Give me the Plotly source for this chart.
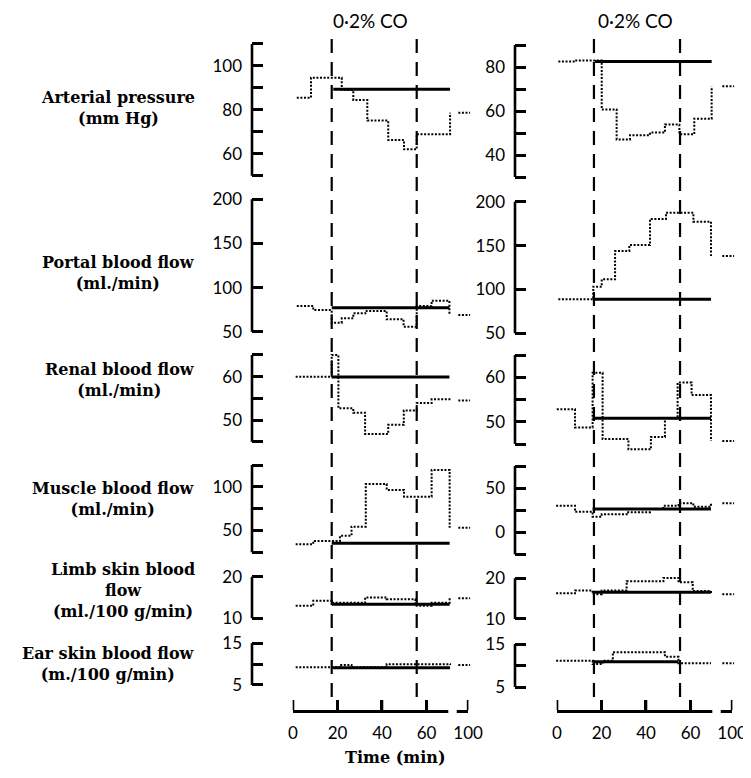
import plotly.graph_objects as go

# ---------------- data ----------------
ROW_NAMES = [
    "Arterial pressure<br>(mm Hg)",
    "Portal blood flow<br>(ml./min)",
    "Renal blood flow<br>(ml./min)",
    "Muscle blood flow<br>(ml./min)",
    "Limb skin blood<br>flow<br>(ml./100 g/min)",
    "Ear skin blood flow<br>(m./100 g/min)",
]
COLUMN_TITLE = "0·2% CO"
X_TITLE = "Time (min)"
X_TICK_TIMES = [0, 20, 40, 60]
X_TICK_LABELS = ["0", "20", "40", "60", "100"]
CO_ON_MIN = [17.4, 16.6]
CO_OFF_MIN = [55.6, 55.3]

# left experiment: step edges (min), step values, 100-min recovery value, control line
ART_L_T = [1.7, 8.1, 21.9, 27.1, 33.4, 42.8, 49.9, 55.6, 70.6]
ART_L_V = [85.5, 94.6, 89.0, 84.5, 75.1, 66.3, 62.0, 68.9]
ART_L_REC = 78.7
ART_L_CTRL = 89.4
ART_L_CTRL_T = [18.1, 70.6]

POR_L_T = [1.7, 9.1, 17.4, 21.9, 27.1, 33.1, 42.1, 49.7, 55.6, 62.3, 70.3]
POR_L_V = [79.1, 74.6, 60.2, 65.2, 70.8, 73.5, 64.1, 55.7, 79.1, 85.2]
POR_L_REC = 68.9
POR_L_CTRL = 77.2
POR_L_CTRL_T = [17.4, 70.3]

REN_L_T = [1.2, 17.4, 20.4, 27.1, 32.4, 42.8, 49.8, 55.6, 62.3, 70.3]
REN_L_V = [60.0, 65.0, 52.7, 51.7, 46.8, 48.9, 52.2, 53.9, 54.8]
REN_L_REC = 54.5
REN_L_CTRL = 59.9
REN_L_CTRL_T = [17.4, 70.3]

MUS_L_T = [1.2, 9.1, 21.1, 26.3, 32.7, 42.1, 49.9, 62.3, 70.4]
MUS_L_V = [34.2, 38.0, 44.0, 54.4, 103.2, 96.4, 88.7, 119.3]
MUS_L_REC = 53.2
MUS_L_CTRL = 35.3
MUS_L_CTRL_T = [17.4, 70.4]

LIMB_L_T = [1.2, 9.1, 17.4, 32.4, 42.1, 55.0, 62.3, 70.4]
LIMB_L_V = [13.0, 14.2, 13.75, 15.0, 14.6, 13.0, 13.75]
LIMB_L_REC = 14.8
LIMB_L_CTRL = 13.4
LIMB_L_CTRL_T = [17.4, 70.4]

EAR_L_T = [1.2, 21.1, 26.3, 42.1, 70.6]
EAR_L_V = [9.25, 9.8, 9.25, 10.0]
EAR_L_REC = 9.8
EAR_L_CTRL = 9.15
EAR_L_CTRL_T = [18.0, 70.6]

# right experiment
ART_R_T = [0.6, 8.1, 20.1, 26.8, 32.8, 41.8, 48.5, 55.0, 61.7, 69.5]
ART_R_V = [82.5, 83.0, 60.7, 47.1, 49.0, 50.2, 53.9, 49.4, 56.5]
ART_R_REC = 71.2
ART_R_CTRL = 82.5
ART_R_CTRL_T = [17.1, 69.5]

POR_R_T = [0.6, 16.3, 20.1, 26.1, 32.5, 41.8, 49.0, 61.3, 69.2]
POR_R_V = [88.7, 103.1, 111.5, 143.8, 150.6, 180.3, 187.5, 177.2]
POR_R_REC = 138.1
POR_R_CTRL = 88.7
POR_R_CTRL_T = [16.3, 69.2]

REN_R_T = [-0.1, 8.1, 16.0, 20.5, 32.1, 42.2, 48.5, 54.2, 60.5, 69.2]
REN_R_V = [52.8, 48.7, 61.0, 46.1, 43.8, 46.6, 50.8, 58.8, 56.0]
REN_R_REC = 45.7
REN_R_CTRL = 50.8
REN_R_CTRL_T = [16.0, 69.2]

MUS_R_T = [-0.4, 8.1, 16.0, 20.1, 31.3, 41.8, 47.8, 54.6, 61.3, 69.2]
MUS_R_V = [30.0, 23.2, 17.6, 20.3, 22.6, 26.3, 30.0, 32.8, 28.9]
MUS_R_REC = 32.8
MUS_R_CTRL = 26.3
MUS_R_CTRL_T = [16.0, 69.2]

LIMB_R_T = [-0.4, 8.1, 16.0, 20.1, 31.3, 47.8, 54.6, 61.0, 69.2]
LIMB_R_V = [16.3, 17.0, 16.1, 17.0, 19.3, 20.1, 19.0, 16.9]
LIMB_R_REC = 16.1
LIMB_R_CTRL = 16.6
LIMB_R_CTRL_T = [16.0, 69.2]

EAR_R_T = [-0.4, 16.0, 20.6, 25.1, 48.5, 54.6, 69.2]
EAR_R_V = [11.1, 10.35, 11.1, 13.1, 12.05, 10.5]
EAR_R_REC = 10.5
EAR_R_CTRL = 10.9
EAR_R_CTRL_T = [16.0, 54.6]

# y axes: (min, max, tick values, labelled values)
Y_AXES_L = [
    (50, 110, [50, 60, 70, 80, 90, 100, 110], [60, 80, 100]),
    (50, 200, [50, 100, 150, 200], [50, 100, 150, 200]),
    (45, 65, [45, 50, 55, 60, 65], [50, 60]),
    (25, 125, [25, 50, 75, 100, 125], [50, 100]),
    (10, 20, [10, 20], [10, 20]),
    (5, 15, [5, 10, 15], [5, 15]),
]
Y_AXES_R = [
    (30, 90, [30, 40, 50, 60, 70, 80, 90], [40, 60, 80]),
    (50, 200, [50, 100, 150, 200], [50, 100, 150, 200]),
    (45, 65, [45, 50, 55, 60, 65], [50, 60]),
    (-25, 75, [-25, 0, 25, 50, 75], [0, 50]),
    (10, 20, [10, 20], [10, 20]),
    (5, 15, [5, 10, 15], [5, 15]),
]

PANELS = [
    [
        (ART_L_T, ART_L_V, ART_L_REC, ART_L_CTRL, ART_L_CTRL_T),
        (POR_L_T, POR_L_V, POR_L_REC, POR_L_CTRL, POR_L_CTRL_T),
        (REN_L_T, REN_L_V, REN_L_REC, REN_L_CTRL, REN_L_CTRL_T),
        (MUS_L_T, MUS_L_V, MUS_L_REC, MUS_L_CTRL, MUS_L_CTRL_T),
        (LIMB_L_T, LIMB_L_V, LIMB_L_REC, LIMB_L_CTRL, LIMB_L_CTRL_T),
        (EAR_L_T, EAR_L_V, EAR_L_REC, EAR_L_CTRL, EAR_L_CTRL_T),
    ],
    [
        (ART_R_T, ART_R_V, ART_R_REC, ART_R_CTRL, ART_R_CTRL_T),
        (POR_R_T, POR_R_V, POR_R_REC, POR_R_CTRL, POR_R_CTRL_T),
        (REN_R_T, REN_R_V, REN_R_REC, REN_R_CTRL, REN_R_CTRL_T),
        (MUS_R_T, MUS_R_V, MUS_R_REC, MUS_R_CTRL, MUS_R_CTRL_T),
        (LIMB_R_T, LIMB_R_V, LIMB_R_REC, LIMB_R_CTRL, LIMB_R_CTRL_T),
        (EAR_R_T, EAR_R_V, EAR_R_REC, EAR_R_CTRL, EAR_R_CTRL_T),
    ],
]
Y_AXES = [Y_AXES_L, Y_AXES_R]

# ---------------- layout geometry ----------------
WIN_W, WIN_H = 751, 778
PAGE_OFFSET = 8            # default body margin of the page the figure sits in
W, H = WIN_W - PAGE_OFFSET, WIN_H - PAGE_OFFSET
PX_PER_MIN = 2.225
ORIGIN_PX = [293, 557]
SPINE_PX = [252, 515]
RIGHT_PX = [484, 750]
REC_POS = 78.7            # display position of the "100" tick (broken axis)
REC_SPAN = (74.3, 79.6)
AXIS_BREAK = (69.8, 73.6)
AXIS_Y_PX = 710
X_TICK_LEN_PX = 10
ROW_PX = [
    [(44, 175.7), (199.3, 331.7), (355, 441.7), (465, 552.3), (576.7, 618.3), (643.3, 685)],
    [(45, 177), (201.7, 333.3), (355, 444), (466, 554.3), (578.3, 619), (644, 687)],
]
PAD_FRAC = 0.12           # plot area extends beyond each bracket so marks are not clipped
ROW_LABEL_Y = [108.5, 272.5, 379.5, 499, 590.5, 663.5]
TITLE_X = [370, 635]

TICK_FONT = dict(family="Lato", size=17, color="black")
LABEL_FONT = dict(family="DejaVu Serif", size=16, color="black", weight="bold")
INK = "black"
DOT = "2px,1.6px"


def fx(px):
    return (px - PAGE_OFFSET) / W


def fy(py):
    return 1 - (py - PAGE_OFFSET) / H


def ax(k):
    s = "" if k == 1 else str(k)
    return "x" + s, "y" + s, "xaxis" + s, "yaxis" + s


fig = go.Figure()
layout = {}
shapes = []
annotations = []

for c in range(2):
    xmin = (SPINE_PX[c] - ORIGIN_PX[c]) / PX_PER_MIN
    xmax = (RIGHT_PX[c] - ORIGIN_PX[c]) / PX_PER_MIN
    for r in range(6):
        k = c * 7 + r + 1
        xa, ya, xkey, ykey = ax(k)
        T, V, REC, CTRL, CTRL_T = PANELS[c][r]
        lo, hi, tv, lab = Y_AXES[c][r]
        top, bot = ROW_PX[c][r]
        ppu = (bot - top) / (hi - lo)
        pad = PAD_FRAC * (hi - lo)
        fig.add_trace(go.Scatter(
            x=T, y=list(V) + [REC], mode="lines", line_shape="hv",
            line=dict(color=INK, width=2, dash=DOT),
            xaxis=xa, yaxis=ya, showlegend=False, hoverinfo="skip"))
        fig.add_trace(go.Scatter(
            x=CTRL_T, y=[CTRL, CTRL], mode="lines",
            line=dict(color=INK, width=3),
            xaxis=xa, yaxis=ya, showlegend=False, hoverinfo="skip"))
        fig.add_trace(go.Scatter(
            x=list(REC_SPAN), y=[REC, REC], mode="lines",
            line=dict(color=INK, width=2, dash=DOT),
            xaxis=xa, yaxis=ya, showlegend=False, hoverinfo="skip"))
        layout[xkey] = dict(
            domain=[fx(SPINE_PX[c]), min(1.0, fx(RIGHT_PX[c]))], range=[xmin, xmax],
            visible=False, anchor=ya, fixedrange=True, automargin=False)
        layout[ykey] = dict(
            domain=[fy(bot + pad * ppu), fy(top - pad * ppu)], range=[lo - pad, hi + pad], anchor=xa,
            showline=False,
            ticks="inside", ticklen=11, tickwidth=2.6, tickcolor=INK,
            tickmode="array", tickvals=tv,
            ticktext=[str(v) if v in lab else "" for v in tv],
            tickfont=TICK_FONT, ticklabelstandoff=9,
            showgrid=False, zeroline=False, fixedrange=True, automargin=False)
        # bracket spine
        shapes.append(dict(type="line", xref=f"{xa} domain", yref=ya, x0=0, x1=0, y0=lo, y1=hi,
                           line=dict(color=INK, width=2.6), layer="above"))
    # bottom time axis (its own subplot, same px-per-minute scale)
    k = c * 7 + 7
    xa, ya, xkey, ykey = ax(k)
    fig.add_trace(go.Scatter(x=[0], y=[0], mode="markers", marker=dict(opacity=0),
                             xaxis=xa, yaxis=ya, showlegend=False, hoverinfo="skip"))
    eps = 0.15
    x_tick_vals = X_TICK_TIMES + [REC_POS]
    layout[xkey] = dict(
        domain=[fx(ORIGIN_PX[c] - eps * PX_PER_MIN), fx(ORIGIN_PX[c] + (REC_POS + eps) * PX_PER_MIN)],
        range=[-eps, REC_POS + eps], anchor=ya,
        showline=True, linecolor=INK, linewidth=2.6,
        ticks="inside", ticklen=X_TICK_LEN_PX, tickwidth=2.6, tickcolor=INK,
        tickmode="array", tickvals=x_tick_vals, ticktext=X_TICK_LABELS,
        tickfont=TICK_FONT, ticklabelstandoff=6,
        showgrid=False, zeroline=False, fixedrange=True, automargin=False)
    layout[ykey] = dict(domain=[fy(AXIS_Y_PX), fy(AXIS_Y_PX - 12)], range=[0, 1],
                        visible=False, anchor=xa, fixedrange=True, automargin=False)
    # upward tick marks on the time axis
    for t in x_tick_vals:
        shapes.append(dict(type="line", xref=xa, yref="paper", x0=t, x1=t,
                           y0=fy(AXIS_Y_PX), y1=fy(AXIS_Y_PX - X_TICK_LEN_PX),
                           line=dict(color=INK, width=2.6), layer="above"))
    shapes.append(dict(type="rect", xref=xa, yref="paper",
                       x0=AXIS_BREAK[0], x1=AXIS_BREAK[1],
                       y0=fy(AXIS_Y_PX + 4), y1=fy(AXIS_Y_PX - 4),
                       fillcolor="white", line=dict(width=0), layer="above"))
    # CO on / off dashed markers across all rows
    x_first = ax(c * 7 + 1)[0]
    for t in (CO_ON_MIN[c], CO_OFF_MIN[c]):
        shapes.append(dict(type="line", xref=x_first, yref="paper",
                           x0=t, x1=t, y0=fy(697), y1=fy(38),
                           line=dict(color=INK, width=2.2, dash="14px,9px"), layer="above"))
    annotations.append(dict(text=COLUMN_TITLE, x=fx(TITLE_X[c]), y=fy(20), xref="paper", yref="paper",
                            showarrow=False, font=dict(family="Lato", size=19, color="black"),
                            xanchor="center", yanchor="middle"))

for r, name in enumerate(ROW_NAMES):
    annotations.append(dict(text=name, x=fx(197), y=fy(ROW_LABEL_Y[r]), xref="paper", yref="paper",
                            showarrow=False, font=LABEL_FONT, align="center",
                            xanchor="right", yanchor="middle"))

annotations.append(dict(text=X_TITLE, x=fx(395), y=fy(757), xref="paper", yref="paper",
                        showarrow=False, font=LABEL_FONT, xanchor="center", yanchor="middle"))

fig.update_layout(
    width=W, height=H, margin=dict(l=0, r=0, t=0, b=0, autoexpand=False),
    paper_bgcolor="white", plot_bgcolor="white",
    shapes=shapes, annotations=annotations, showlegend=False,
    **layout)

fig.write_html("out.html")
